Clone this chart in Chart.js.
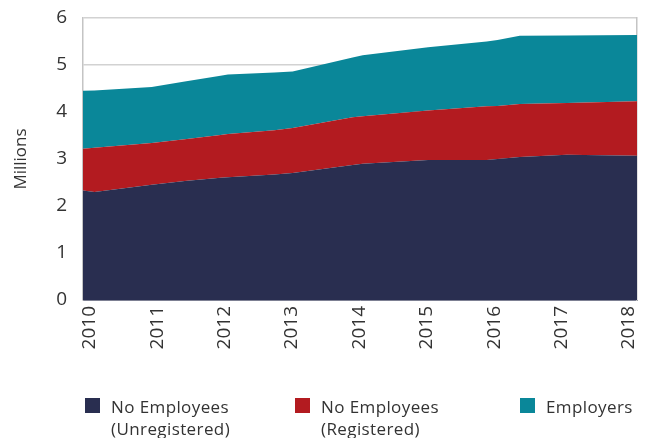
<!DOCTYPE html>
<html>
<head>
<meta charset="utf-8">
<script src="https://cdn.jsdelivr.net/npm/chart.js@4/dist/chart.umd.min.js"></script>
<style>
  html, body { margin: 0; padding: 0; background: #fff; }
  #wrap { position: relative; width: 647px; height: 438px; overflow: hidden; }
  #c { position: absolute; left: 0; top: 0; }
  .lg { position: absolute; top: 396px; font-family: "Open Sans", sans-serif; font-size: 17px; letter-spacing: 0.4px; line-height: 22px; color: #333; }
  .lg .sw { position: absolute; left: 0; top: 2px; width: 15px; height: 15px; }
  .lg .tx { position: absolute; white-space: nowrap; }
</style>
</head>
<body>
<div id="wrap">
  <canvas id="c" width="647" height="438"></canvas>
  <div id="legend"></div>
</div>
<script>
// ---- data (decimal years) ----
const xPoints = [2009.9, 2010.07, 2010.92, 2011.41, 2011.94, 2012.05, 2012.74, 2013.01, 2013.9, 2014.05, 2015.02, 2015.89, 2016.05, 2016.38, 2017.08, 2018.12];
const unregistered = [2.33, 2.30, 2.45, 2.53, 2.60, 2.61, 2.67, 2.70, 2.87, 2.90, 2.98, 2.98, 3.00, 3.04, 3.09, 3.07];
const registered   = [0.89, 0.94, 0.89, 0.89, 0.91, 0.92, 0.94, 0.96, 1.02, 1.01, 1.05, 1.14, 1.13, 1.13, 1.10, 1.16];
const employers    = [1.23, 1.22, 1.19, 1.23, 1.26, 1.27, 1.23, 1.20, 1.27, 1.30, 1.35, 1.38, 1.40, 1.45, 1.44, 1.41];
const yearTicks = [2010, 2011, 2012, 2013, 2014, 2015, 2016, 2017, 2018];
const yTicks = [0, 1, 2, 3, 4, 5, 6];
const seriesNames = [["No Employees", "(Unregistered)"], ["No Employees", "(Registered)"], ["Employers"]];
const seriesColors = ["#292e50", "#b31b20", "#0a8799"];

const toPts = arr => arr.map((v, i) => ({ x: xPoints[i], y: v }));

const ds = (i, arr, fill) => ({
  label: seriesNames[i].join(" "),
  data: toPts(arr),
  backgroundColor: seriesColors[i],
  borderColor: seriesColors[i],
  borderWidth: 0,
  pointRadius: 0,
  tension: 0,
  fill: fill
});

const FONT = "'Open Sans', sans-serif";
const noPad = s => { s.paddingTop = 0; s.paddingBottom = 0; s.paddingLeft = 0; s.paddingRight = 0; };

new Chart(document.getElementById("c"), {
  type: "line",
  data: {
    datasets: [
      ds(0, unregistered, "origin"),
      ds(1, registered, "-1"),
      ds(2, employers, "-1")
    ]
  },
  options: {
    responsive: false,
    animation: false,
    layout: { padding: { left: 0, right: 10, top: 18, bottom: 0 } },
    plugins: { legend: { display: false }, tooltip: { enabled: false } },
    scales: {
      x: {
        type: "linear",
        min: 2009.9,
        max: 2018.12,
        afterBuildTicks: s => { s.ticks = yearTicks.map(v => ({ value: v })); },
        afterFit: s => { s.height = 138; noPad(s); },
        grid: { display: false, drawTicks: false },
        border: { display: true, color: "#7d8093", width: 1 },
        ticks: {
          minRotation: 90, maxRotation: 90, autoSkip: false, padding: 6,
          color: "#333", font: { family: FONT, size: 19 },
          callback: v => String(v)
        }
      },
      y: {
        stacked: true,
        min: 0, max: 6,
        afterBuildTicks: s => { s.ticks = yTicks.map(v => ({ value: v })); },
        afterFit: s => { s.width = 83; noPad(s); },
        grid: { color: "#d2d2d2", lineWidth: 1.5, drawTicks: false },
        border: { display: true, color: "#c4c4c4", width: 1.5 },
        ticks: { padding: 16, color: "#333", font: { family: FONT, size: 19 } },
        title: { display: true, text: "Millions", color: "#333", font: { family: FONT, size: 17 }, padding: { top: 11, bottom: 0 } }
      },
      y2: {
        position: "right",
        min: 0, max: 6,
        afterFit: s => { s.width = 0; noPad(s); },
        grid: { display: false, drawTicks: false },
        border: { display: true, color: "#c4c4c4", width: 1.5 },
        ticks: { display: false }
      }
    }
  }
});

// HTML legend (real text)
const legendLeft = [85, 295, 520];
const lg = document.getElementById("legend");
seriesNames.forEach((lines, i) => {
  const d = document.createElement("div");
  d.className = "lg";
  d.style.left = legendLeft[i] + "px";
  const sw = document.createElement("div");
  sw.className = "sw";
  sw.style.background = seriesColors[i];
  d.appendChild(sw);
  const tx = document.createElement("div");
  tx.className = "tx";
  tx.style.left = "26px";
  tx.innerHTML = lines.join("<br>");
  d.appendChild(tx);
  lg.appendChild(d);
});
</script>
</body>
</html>
